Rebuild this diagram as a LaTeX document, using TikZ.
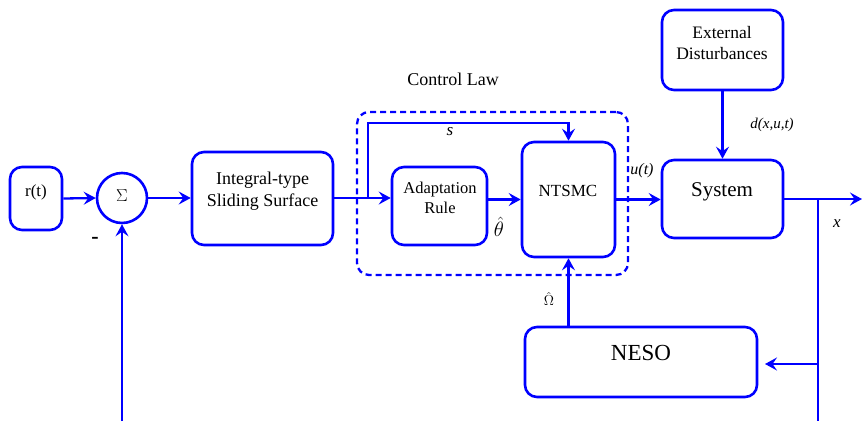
\documentclass[tikz,border=0pt]{standalone}
\usepackage{fontspec}
\setmainfont{Liberation Serif}
\newfontfamily\tms{Liberation Serif}
\usetikzlibrary{arrows.meta}
\begin{document}
\begin{tikzpicture}[x=1pt,y=-1pt,
  blk/.style={draw=blue, line width=2.6pt, rounded corners=12pt, inner sep=0pt},
  txt/.style={text=black, align=center, inner sep=0pt, font=\tms\fontsize{17}{21}\selectfont},
  lab/.style={text=black, inner sep=0pt, font=\tms\fontsize{16}{19}\selectfont\itshape},
  conn/.style={draw=blue, line width=2.3pt, -{Stealth[length=12pt,width=13pt,inset=4.5pt]}},
  ln/.style={draw=blue, line width=2.3pt}
]
\useasboundingbox (0,0) rectangle (862,421);

% dashed control-law frame
\node[draw=blue, line width=2.3pt, dash pattern=on 6pt off 4pt, rounded corners=12pt,
      minimum width=271pt, minimum height=163pt, inner sep=0pt] (ctrl) at (492.5,193.5) {};
\node[txt, font=\tms\fontsize{18}{21}\selectfont] (ctrltxt) at (453,79) {Control Law};

% blocks
\node[blk, minimum width=52pt, minimum height=63pt] (rt) at (36,198.5) {};
\node[txt] (rttxt) at (36,192) {r(t)};

\node[draw=blue, line width=2.6pt, circle, minimum size=50pt, inner sep=0pt] (sum) at (122,198) {};
\node[txt, font=\fontsize{18}{22}\selectfont] (sumtxt) at (122,196) {$\Sigma$};
\node[txt, font=\tms\fontsize{22}{24}\selectfont\bfseries] (minus) at (95,240) {-};

\node[blk, minimum width=141pt, minimum height=93pt] (integ) at (262.5,198.5) {};
\node[txt, font=\tms\fontsize{18}{22}\selectfont] (integtxt) at (262.5,191) {Integral-type\\Sliding Surface};

\node[blk, minimum width=95pt, minimum height=78pt] (adapt) at (439.5,206) {};
\node[txt, font=\tms\fontsize{16.5}{20}\selectfont] (adapttxt) at (440,198) {Adaptation\\Rule};

\node[blk, minimum width=93pt, minimum height=115pt] (ntsmc) at (568.5,199.5) {};
\node[txt] (ntsmctxt) at (568,191) {NTSMC};

\node[blk, minimum width=121pt, minimum height=78pt] (sys) at (722.5,199) {};
\node[txt, font=\tms\fontsize{21}{24}\selectfont] (systxt) at (722,192) {System};

\node[blk, minimum width=121pt, minimum height=80pt] (ext) at (722.5,50) {};
\node[txt, font=\tms\fontsize{17.5}{21}\selectfont] (exttxt) at (722,43) {External\\Disturbances};

\node[blk, minimum width=232pt, minimum height=70pt] (neso) at (641,362) {};
\node[txt, font=\tms\fontsize{23}{26}\selectfont] (nesotxt) at (641,353) {NESO};

% coordinates
\coordinate (sbr) at (368,198);
\coordinate (stop) at (368,123);
\coordinate (out) at (862,199);
\coordinate (br) at (818,199);
\coordinate (brlow) at (818,421);
\coordinate (brn) at (818,364);
\coordinate (nesoin) at (765,364);
\coordinate (fb) at (122,421);

% connectors
\draw[conn] (rt.east) -- (sum.west);
\draw[conn] (sum.east) -- (sum.east -| integ.west);
\draw[conn] (integ.east |- sbr) -- (sbr -| adapt.west);
\draw[conn] (sbr) -- (stop) -| (ntsmc.north);
\draw[conn] (adapt.east |- ntsmc.west) -- (ntsmc.west);
\draw[conn] (ntsmc.east) -- (ntsmc.east -| sys.west);
\draw[conn] (ext.south) -- (sys.north);
\draw[conn] (sys.east |- out) -- (out);
\draw[ln] (br) -- (brlow);
\draw[conn] (brn) -- (nesoin);
\draw[conn] (ntsmc.south |- neso.north) -- (ntsmc.south);
\draw[conn] (fb) -- (sum.south);

% labels
\node[lab, font=\tms\fontsize{17}{20}\selectfont\itshape] (slab) at (450,132) {s};
\node[text=black, inner sep=0pt, font=\fontsize{21}{24}\selectfont] (thlab) at (499,227) {$\hat{\theta}$};
\node[lab] (ulab) at (642,171) {u(t)};
\node[lab, font=\tms\fontsize{15}{18}\selectfont\itshape] (dlab) at (772,125) {d(x,u,t)};
\node[lab, font=\tms\fontsize{17}{20}\selectfont\itshape] (xlab) at (837,224) {x};
\node[text=black, inner sep=0pt, font=\fontsize{14}{17}\selectfont] (omlab) at (549,299) {$\hat{\Omega}$};
\end{tikzpicture}
\end{document}
